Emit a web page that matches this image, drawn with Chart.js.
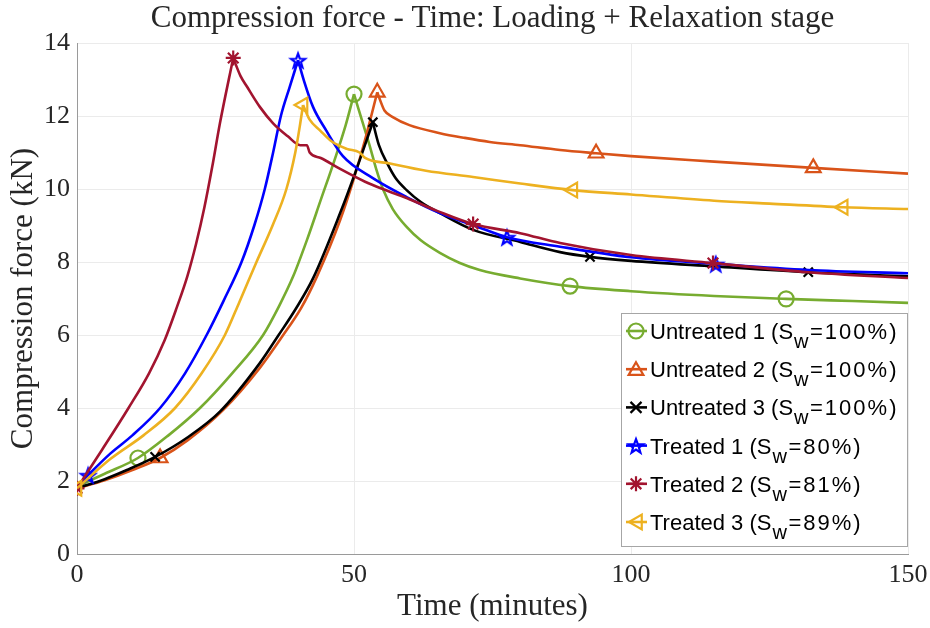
<!DOCTYPE html>
<html>
<head>
<meta charset="utf-8">
<script src="https://cdn.jsdelivr.net/npm/chart.js@4.4.0/dist/chart.umd.min.js"></script>
<style>
  html, body { margin: 0; padding: 0; background: #fff; }
</style>
</head>
<body>
<canvas id="forceChart" width="930" height="628"></canvas>
<script>
// Compression force (kN) against time (minutes)

// Untreated 1
var u1X = [0, 5, 11, 16.5, 22.2, 28, 33.6, 36.5, 39, 41.5, 44, 46.5, 48.5, 50,
           51.5, 52.9, 54, 55.3, 57, 59.5, 62, 65.5, 69, 72.7, 80, 89, 100, 115, 128, 140, 150];
var u1Y = [1.85, 2.2, 2.63, 3.25, 4.0, 4.95, 6.0, 6.8, 7.6, 8.6, 9.7, 10.8, 11.75, 12.6,
           11.85, 11.15, 10.55, 9.97, 9.45, 8.96, 8.6, 8.25, 7.98, 7.78, 7.55, 7.34, 7.2, 7.07, 6.99, 6.93, 6.88];
var u1Marks = [11, 50, 89, 128];

// Untreated 2
var u2X = [0, 5, 10, 15, 20, 26.4, 33, 37, 40.5, 43.3, 47.5, 50, 52, 54.2,
           54.8, 55.5, 57, 60, 65.5, 70, 74.5, 80, 87.2, 93.7, 100, 115, 132.9, 150];
var u2Y = [1.8, 2.02, 2.3, 2.63, 3.12, 3.95, 5.1, 5.95, 6.75, 7.6, 9.15, 10.3, 11.35, 12.65,
           12.4, 12.15, 11.97, 11.75, 11.53, 11.4, 11.29, 11.2, 11.07, 10.98, 10.9, 10.75, 10.58, 10.42];
var u2Marks = [15, 54.2, 93.7, 132.9];

// Untreated 3
var u3X = [0, 5, 9, 14.1, 20, 25.8, 33, 36.4, 39.5, 42.6, 47.5, 50, 53.4,
           54.5, 56, 57.5, 59.5, 62, 65.5, 71.5, 80, 87.2, 92.6, 100, 115, 132, 150];
var u3Y = [1.8, 2.05, 2.3, 2.66, 3.2, 3.9, 5.23, 6.0, 6.72, 7.55, 9.34, 10.35, 11.83,
           11.2, 10.7, 10.3, 9.97, 9.65, 9.34, 8.88, 8.55, 8.27, 8.14, 8.03, 7.88, 7.72, 7.61];
var u3Marks = [14.1, 53.4, 92.6, 132];

// Treated 1
var t1X = [0, 2, 6, 10, 15, 19.5, 23.4, 26.5, 29.7, 32, 33.9, 35.4, 36.8, 38.4, 39.9,
           41, 42.6, 45, 48, 53.4, 59.5, 65.5, 72, 77.6, 87.2, 100, 115.3, 132, 150];
var t1Y = [1.85, 2.16, 2.75, 3.25, 4.0, 4.95, 6.0, 6.95, 8.0, 9.0, 10.0, 11.0, 12.0, 12.8, 13.53,
           12.95, 12.25, 11.6, 10.9, 10.3, 9.78, 9.34, 8.98, 8.68, 8.42, 8.13, 7.95, 7.78, 7.69];
var t1Marks = [2, 39.9, 77.6, 115.3];

// Treated 2
var t2X = [0, 4.5, 9.3, 13, 15.8, 18, 19.9, 21.5, 23, 24.4, 25.8, 28.2,
           29.5, 30.7, 33, 35.4, 38, 40.3, 41.5, 42, 44, 47.5, 52, 56, 60, 65, 71.5, 80, 87.2, 100, 114.8, 132, 150];
var t2Y = [1.8, 2.85, 4.0, 4.95, 5.85, 6.75, 7.6, 8.5, 9.5, 10.6, 11.8, 13.59,
           13.1, 12.8, 12.25, 11.8, 11.45, 11.2, 11.2, 11.0, 10.85, 10.55, 10.2, 9.95, 9.72, 9.4, 9.04, 8.79, 8.52, 8.19, 7.97, 7.72, 7.56];
var t2Marks = [0, 28.2, 71.5, 114.8];

// Treated 3
var t3X = [0, 6, 12, 17.7, 22.5, 26.7, 29.3, 32.4, 35.3, 37.8, 39.4, 40.3, 40.8,
           42, 43.9, 46, 48.7, 51, 52, 56.5, 63, 71.5, 80, 89.5, 100, 115, 125, 138.3, 150];
var t3Y = [1.8, 2.6, 3.25, 4.0, 4.95, 6.0, 6.9, 8.0, 9.0, 10.0, 11.0, 11.8, 12.3,
           11.9, 11.6, 11.3, 11.1, 11.0, 10.85, 10.7, 10.5, 10.33, 10.15, 9.97, 9.85, 9.68, 9.6, 9.5, 9.45];
var t3Marks = [0, 40.8, 89.5, 138.3];

var seriesNames = ['Untreated 1', 'Untreated 2', 'Untreated 3', 'Treated 1', 'Treated 2', 'Treated 3'];
var swValues = ['100%', '100%', '100%', '80%', '81%', '89%'];

var colors = ['#77AC30', '#D95319', '#000000', '#0000FF', '#A2142F', '#EDB120'];
var markerKinds = ['circle', 'triangle', 'cross', 'pentagram', 'asterisk', 'triLeft'];

var titleText = 'Compression force - Time: Loading + Relaxation stage';

function drawMarker(g, kind, x, y, color) {
    g.save();
    g.strokeStyle = color;
    g.lineWidth = 2.2;
    g.beginPath();
    if (kind === 'circle') {
        g.arc(x, y, 7.5, 0, Math.PI * 2);
    } else if (kind === 'triangle' || kind === 'triLeft') {
        var r = 8.5;
        var rot = kind === 'triLeft' ? -Math.PI / 2 : 0;
        for (var k = 0; k < 3; k++) {
            var a = rot - Math.PI / 2 + k * 2 * Math.PI / 3;
            var px = x + r * Math.cos(a), py = y + r * Math.sin(a) + (kind === 'triangle' ? 1.5 : 0);
            if (kind === 'triLeft') px += 1.5;
            if (k === 0) g.moveTo(px, py); else g.lineTo(px, py);
        }
        g.closePath();
    } else if (kind === 'cross') {
        var d = 5.5;
        g.moveTo(x - d, y - d); g.lineTo(x + d, y + d);
        g.moveTo(x - d, y + d); g.lineTo(x + d, y - d);
    } else if (kind === 'asterisk') {
        var s = 7.5, q = 5.3;
        g.moveTo(x - s, y); g.lineTo(x + s, y);
        g.moveTo(x, y - s); g.lineTo(x, y + s);
        g.moveTo(x - q, y - q); g.lineTo(x + q, y + q);
        g.moveTo(x - q, y + q); g.lineTo(x + q, y - q);
    } else if (kind === 'pentagram') {
        var ro = 7.5, ri = 3.1;
        for (var k = 0; k < 10; k++) {
            var rr = k % 2 === 0 ? ro : ri;
            var a = -Math.PI / 2 + k * Math.PI / 5;
            var px = x + rr * Math.cos(a), py = y + 1 + rr * Math.sin(a);
            if (k === 0) g.moveTo(px, py); else g.lineTo(px, py);
        }
        g.closePath();
    }
    g.stroke();
    g.restore();
}

// five pointed star used as the marker of Treated 1
function makePentagram(color) {
    var c = document.createElement('canvas');
    c.width = 20; c.height = 20;
    drawMarker(c.getContext('2d'), 'pentagram', 10, 10, color);
    return c;
}

function toPoints(xs, ys) {
    return xs.map(function (x, i) { return { x: x, y: ys[i] }; });
}

var allX = [u1X, u2X, u3X, t1X, t2X, t3X];
var allY = [u1Y, u2Y, u3Y, t1Y, t2Y, t3Y];
var allMarks = [u1Marks, u2Marks, u3Marks, t1Marks, t2Marks, t3Marks];

var pointStyles = ['circle', 'triangle', 'crossRot', makePentagram('#0000FF'), 'star', 'triangle'];
var pointSizes = [7.5, 8.5, 6.5, 10, 7.5, 8.5];

// each run is drawn as a loading branch and a relaxation branch so the peak stays sharp
var datasets = [];
seriesNames.forEach(function (name, i) {
    var pts = toPoints(allX[i], allY[i]);
    var peak = allY[i].indexOf(Math.max.apply(null, allY[i]));
    var marks = allMarks[i];
    [pts.slice(0, peak + 1), pts.slice(peak)].forEach(function (part, half) {
        datasets.push({
            label: name,
            data: part,
            showLine: true,
            borderColor: colors[i],
            borderWidth: 2.6,
            cubicInterpolationMode: 'monotone',
            pointStyle: pointStyles[i],
            pointRotation: i === 5 ? -90 : 0,
            pointBorderColor: colors[i],
            pointBackgroundColor: 'rgba(0,0,0,0)',
            pointBorderWidth: 2.2,
            pointRadius: function (c) {
                var isMark = marks.indexOf(c.raw.x) >= 0;
                if (half === 1 && c.dataIndex === 0) isMark = false;
                return isMark ? pointSizes[i] : 0;
            },
            pointHoverRadius: 0,
            order: 20 - 2 * i - half
        });
    });
});

// title centred over the axes, as MATLAB does
var axesTitle = {
    id: 'axesTitle',
    afterDraw: function (chart) {
        var g = chart.ctx, area = chart.chartArea;
        g.save();
        g.fillStyle = '#262626';
        g.font = '31px "Liberation Serif", "Times New Roman", serif';
        g.textAlign = 'center';
        g.textBaseline = 'alphabetic';
        g.fillText(titleText, (area.left + area.right) / 2, 27);
        g.restore();
    }
};

// MATLAB-style legend box with S_w subscripts
var swLegend = {
    id: 'swLegend',
    afterDatasetsDraw: function (chart) {
        var g = chart.ctx;
        var area = chart.chartArea;
        var boxL = area.right - 287, boxT = area.bottom - 241;
        var boxW = 286, boxH = 233;
        g.save();
        g.fillStyle = '#ffffff';
        g.fillRect(boxL, boxT, boxW, boxH);
        g.strokeStyle = '#a6a6a6';
        g.lineWidth = 1;
        g.strokeRect(boxL + 0.5, boxT + 0.5, boxW, boxH);
        g.textBaseline = 'alphabetic';
        for (var i = 0; i < seriesNames.length; i++) {
            var cy = boxT + 18 + i * 38.2;
            g.strokeStyle = colors[i];
            g.lineWidth = 2.6;
            g.beginPath();
            g.moveTo(boxL + 5, cy);
            g.lineTo(boxL + 26, cy);
            g.stroke();
            drawMarker(g, markerKinds[i], boxL + 15, cy, colors[i]);
            g.fillStyle = '#000';
            var tx = boxL + 29, base = cy + 8;
            g.font = '22px "Liberation Sans", Arial, sans-serif';
            g.letterSpacing = '0px';
            var head = seriesNames[i] + ' (S';
            g.fillText(head, tx, base);
            tx += g.measureText(head).width + 1;
            g.font = '20px "Liberation Sans", Arial, sans-serif';
            g.fillText('w', tx, base + 9);
            tx += g.measureText('w').width + 1.5;
            g.font = '22px "Liberation Sans", Arial, sans-serif';
            g.letterSpacing = '2px';
            g.fillText('=' + swValues[i] + ')', tx, base);
        }
        g.restore();
    }
};

var serif = '"Liberation Serif", "Times New Roman", serif';
var textColor = '#262626';

new Chart(document.getElementById('forceChart'), {
    type: 'scatter',
    data: { datasets: datasets },
    options: {
        responsive: false,
        animation: false,
        devicePixelRatio: 1,
        layout: { padding: { left: 0, right: 22, top: 43, bottom: 0 } },
        plugins: {
            legend: { display: false },
            tooltip: { enabled: false },
            title: { display: false }
        },
        scales: {
            x: {
                type: 'linear',
                min: 0, max: 150,
                ticks: { stepSize: 50, color: textColor, padding: 6, font: { family: serif, size: 26 } },
                grid: { color: '#ebebeb', drawTicks: false },
                border: { color: '#9a9a9a', width: 1 },
                title: {
                    display: true, text: 'Time (minutes)', color: textColor,
                    font: { family: serif, size: 31 }, padding: { top: 0, bottom: 3 }
                },
                afterFit: function (s) { s.height = 74; s.paddingRight = 0; s.paddingLeft = 0; }
            },
            y: {
                min: 0, max: 14,
                ticks: { stepSize: 2, color: textColor, padding: 7, font: { family: serif, size: 26 } },
                grid: { color: '#ebebeb', drawTicks: false },
                border: { color: '#9a9a9a', width: 1 },
                title: {
                    display: true, text: 'Compression force (kN)', color: textColor,
                    font: { family: serif, size: 31 }, padding: { top: 5, bottom: 0 }
                },
                afterFit: function (s) { s.width = 77; }
            }
        }
    },
    plugins: [swLegend, axesTitle]
});
</script>
</body>
</html>
